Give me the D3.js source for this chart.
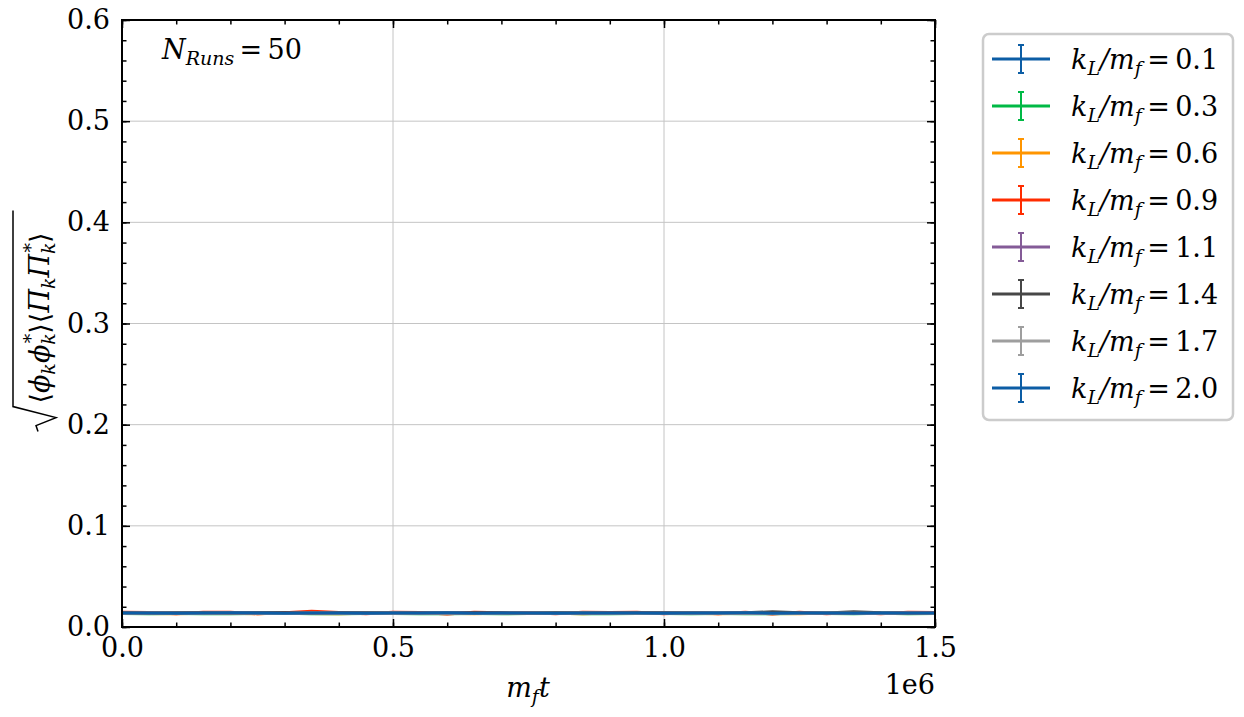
<!DOCTYPE html>
<html>
<head>
<meta charset="utf-8">
<script src="https://cdn.jsdelivr.net/npm/d3@7"></script>
<style>
  body { margin: 0; background: #fff; }
  svg { font-family: "DejaVu Serif", serif; }
  .it { font-style: italic; }
</style>
</head>
<body>
<svg width="1244" height="717"></svg>
<script>
// time grid (m_f t)
var times = [0, 50000, 100000, 150000, 200000, 250000, 300000, 350000, 400000, 450000,
  500000, 550000, 600000, 650000, 700000, 750000, 800000, 850000, 900000, 950000,
  1000000, 1050000, 1100000, 1150000, 1200000, 1250000, 1300000, 1350000, 1400000, 1450000, 1500000];

var kLabels = ["0.1", "0.3", "0.6", "0.9", "1.1", "1.4", "1.7", "2.0"];
var colors = ["#0C5DA5", "#00B945", "#FF9500", "#FF2C00", "#845B97", "#474747", "#9e9e9e", "#0C5DA5"];

var s01 = [0.0139,0.0140,0.0138,0.0141,0.0139,0.0140,0.0138,0.0139,0.0141,0.0140,0.0138,0.0139,0.0140,0.0139,0.0141,0.0138,0.0140,0.0139,0.0138,0.0140,0.0141,0.0139,0.0138,0.0140,0.0139,0.0141,0.0140,0.0138,0.0139,0.0140,0.0139];
var s03 = [0.0133,0.0131,0.0134,0.0132,0.0130,0.0133,0.0135,0.0131,0.0132,0.0134,0.0133,0.0130,0.0132,0.0134,0.0131,0.0133,0.0135,0.0132,0.0130,0.0133,0.0134,0.0131,0.0133,0.0132,0.0130,0.0134,0.0133,0.0131,0.0135,0.0132,0.0133];
var s06 = [0.0136,0.0134,0.0131,0.0137,0.0135,0.0132,0.0138,0.0134,0.0130,0.0136,0.0133,0.0137,0.0135,0.0131,0.0139,0.0134,0.0136,0.0132,0.0138,0.0135,0.0133,0.0137,0.0131,0.0136,0.0134,0.0130,0.0138,0.0135,0.0133,0.0137,0.0135];
var s09 = [0.0146,0.0143,0.0130,0.0145,0.0147,0.0131,0.0142,0.0156,0.0144,0.0131,0.0145,0.0143,0.0129,0.0146,0.0142,0.0144,0.0130,0.0145,0.0143,0.0146,0.0130,0.0144,0.0131,0.0146,0.0129,0.0145,0.0130,0.0144,0.0130,0.0145,0.0143];
var s11 = [0.0138,0.0136,0.0139,0.0135,0.0137,0.0140,0.0136,0.0138,0.0135,0.0139,0.0137,0.0136,0.0140,0.0135,0.0138,0.0136,0.0139,0.0137,0.0135,0.0138,0.0140,0.0136,0.0137,0.0139,0.0135,0.0138,0.0136,0.0140,0.0137,0.0135,0.0138];
var s14 = [0.0141,0.0139,0.0142,0.0140,0.0138,0.0141,0.0140,0.0139,0.0142,0.0140,0.0141,0.0139,0.0138,0.0140,0.0142,0.0139,0.0141,0.0140,0.0139,0.0141,0.0140,0.0142,0.0139,0.0141,0.0150,0.0141,0.0139,0.0151,0.0140,0.0136,0.0135];
var s17 = [0.0136,0.0138,0.0135,0.0137,0.0139,0.0136,0.0134,0.0138,0.0137,0.0135,0.0139,0.0136,0.0138,0.0134,0.0137,0.0139,0.0135,0.0138,0.0136,0.0137,0.0135,0.0139,0.0136,0.0138,0.0134,0.0137,0.0139,0.0136,0.0135,0.0138,0.0137];
var s20 = [0.0138,0.0139,0.0137,0.0138,0.0140,0.0138,0.0137,0.0139,0.0138,0.0137,0.0139,0.0138,0.0140,0.0137,0.0138,0.0139,0.0137,0.0138,0.0139,0.0138,0.0137,0.0139,0.0138,0.0140,0.0137,0.0138,0.0139,0.0137,0.0138,0.0139,0.0138];
var errs = [0.0004, 0.0004, 0.0005, 0.0005, 0.0004, 0.0004, 0.0004, 0.0004];

var xTicks = [0, 500000, 1000000, 1500000];
var yTicks = [0, 0.1, 0.2, 0.3, 0.4, 0.5, 0.6];

var allSeries = [s01, s03, s06, s09, s11, s14, s17, s20];

var svg = d3.select("svg");
var pLeft = 122, pTop = 20, pRight = 935, pBottom = 627;

var x = d3.scaleLinear().domain([0, 1500000]).range([pLeft, pRight]);
var y = d3.scaleLinear().domain([0, 0.6]).range([pBottom, pTop]);

var fontSize = 27;
var subSize = 19;

// grid
var grid = svg.append("g");
grid.selectAll(".gx").data(xTicks.slice(1, -1)).enter().append("line")
  .attr("x1", d => x(d)).attr("x2", d => x(d))
  .attr("y1", pTop).attr("y2", pBottom)
  .attr("stroke", "#c4c4c4").attr("stroke-width", 1);
grid.selectAll(".gy").data(yTicks.slice(1, -1)).enter().append("line")
  .attr("x1", pLeft).attr("x2", pRight)
  .attr("y1", d => y(d)).attr("y2", d => y(d))
  .attr("stroke", "#c4c4c4").attr("stroke-width", 1);

// data
var line = d3.line().x((d, i) => x(times[i])).y(d => y(d));
var plot = svg.append("g");
allSeries.forEach(function(s, k) {
  var g = plot.append("g");
  g.selectAll("line").data(s).enter().append("line")
    .attr("x1", (d, i) => x(times[i])).attr("x2", (d, i) => x(times[i]))
    .attr("y1", d => y(d - errs[k])).attr("y2", d => y(d + errs[k]))
    .attr("stroke", colors[k]).attr("stroke-width", 2);
  g.append("path").datum(s)
    .attr("d", line)
    .attr("fill", "none")
    .attr("stroke", colors[k])
    .attr("stroke-width", 3);
});

// axes, ticks pointing inward on all sides
function styleAxis(g) {
  g.select(".domain").remove();
  g.selectAll(".tick line").attr("stroke", "#000").attr("stroke-width", 1.5);
  g.selectAll(".tick text").attr("font-size", fontSize).attr("font-family", "DejaVu Serif").attr("fill", "#000");
}
var minorX = d3.range(0, 1500001, 100000);
var minorY = d3.range(0, 0.6001, 0.02);

svg.append("g").attr("transform", "translate(0," + pBottom + ")")
  .call(d3.axisBottom(x).tickValues(xTicks).tickSize(-8).tickPadding(11).tickFormat(d => d3.format(".1f")(d / 1e6)))
  .call(styleAxis);
svg.append("g").attr("transform", "translate(0," + pBottom + ")")
  .call(d3.axisBottom(x).tickValues(minorX).tickSize(-4.5).tickFormat(""))
  .call(styleAxis);
svg.append("g").attr("transform", "translate(0," + pTop + ")")
  .call(d3.axisTop(x).tickValues(xTicks).tickSize(-8).tickFormat(""))
  .call(styleAxis);
svg.append("g").attr("transform", "translate(0," + pTop + ")")
  .call(d3.axisTop(x).tickValues(minorX).tickSize(-4.5).tickFormat(""))
  .call(styleAxis);
svg.append("g").attr("transform", "translate(" + pLeft + ",0)")
  .call(d3.axisLeft(y).tickValues(yTicks).tickSize(-8).tickPadding(12).tickFormat(d3.format(".1f")))
  .call(styleAxis);
svg.append("g").attr("transform", "translate(" + pLeft + ",0)")
  .call(d3.axisLeft(y).tickValues(minorY).tickSize(-4.5).tickFormat(""))
  .call(styleAxis);
svg.append("g").attr("transform", "translate(" + pRight + ",0)")
  .call(d3.axisRight(y).tickValues(yTicks).tickSize(-8).tickFormat(""))
  .call(styleAxis);
svg.append("g").attr("transform", "translate(" + pRight + ",0)")
  .call(d3.axisRight(y).tickValues(minorY).tickSize(-4.5).tickFormat(""))
  .call(styleAxis);

svg.append("rect")
  .attr("x", pLeft).attr("y", pTop)
  .attr("width", pRight - pLeft).attr("height", pBottom - pTop)
  .attr("fill", "none").attr("stroke", "#000").attr("stroke-width", 2);

// offset text
svg.append("text").attr("x", pRight).attr("y", 694)
  .attr("text-anchor", "end").attr("font-size", fontSize).text("1e6");

// x label
var xl = svg.append("text").attr("x", 528).attr("y", 697)
  .attr("text-anchor", "middle").attr("font-size", fontSize);
xl.append("tspan").attr("class", "it").text("m");
xl.append("tspan").attr("class", "it").attr("font-size", subSize).attr("dy", 6).text("f");
xl.append("tspan").attr("class", "it").attr("dy", -6).text("t");

// annotation
var nr = svg.append("text").attr("x", 162).attr("y", 59).attr("font-size", fontSize);
nr.append("tspan").attr("class", "it").text("N");
nr.append("tspan").attr("class", "it").attr("font-size", subSize).attr("dy", 6).text("Runs");
nr.append("tspan").attr("dy", -6).text("\u2009=\u200950");

// y label with radical
var yl = svg.append("g").attr("transform", "translate(49,322) rotate(-90)");
var yt = yl.append("text").attr("font-size", fontSize);
function part(t, opt) {
  var sp = yt.append("tspan").text(t);
  if (opt && opt.it) sp.attr("font-style", "italic");
  if (opt && opt.small) sp.attr("font-size", subSize);
  if (opt && opt.dy) sp.attr("dy", opt.dy);
  if (opt && opt.dx) sp.attr("dx", opt.dx);
  return sp;
}
part("\u27E8");
part("\u03D5", {it: true});
part("k", {it: true, small: true, dy: 6});
part("\u03D5", {it: true, dy: -6});
part("k", {it: true, small: true, dy: 6});
part("*", {small: true, dx: -10, dy: -18});
part("\u27E9", {dy: 12});
part("\u27E8");
part("\u03A0", {it: true});
part("k", {it: true, small: true, dy: 6});
part("\u03A0", {it: true, dy: -6});
part("k", {it: true, small: true, dy: 6});
part("*", {small: true, dx: -10, dy: -18});
part("\u27E9", {dy: 12});
var L = yt.node().getComputedTextLength();
var R = 28;
var start = -(L + R) / 2;
yt.attr("x", start + R);
yl.append("path")
  .attr("d", "M" + (start) + ",-11 L" + (start + 6) + ",-13 L" + (start + 14) + ",7 L" + (start + R - 3) + ",-36 H" + (start + R + L + 2))
  .attr("fill", "none").attr("stroke", "#000").attr("stroke-width", 1.5);

// legend
var lg = svg.append("g");
lg.append("rect").attr("x", 983).attr("y", 34).attr("width", 250).attr("height", 386)
  .attr("rx", 6).attr("fill", "#fff").attr("stroke", "#cccccc").attr("stroke-width", 2.5);
kLabels.forEach(function(lab, i) {
  var cy = 59 + i * 47;
  lg.append("line").attr("x1", 992).attr("x2", 1050).attr("y1", cy).attr("y2", cy)
    .attr("stroke", colors[i]).attr("stroke-width", 3);
  lg.append("line").attr("x1", 1021).attr("x2", 1021).attr("y1", cy - 14).attr("y2", cy + 14)
    .attr("stroke", colors[i]).attr("stroke-width", 2);
  [cy - 14, cy + 14].forEach(function(c) {
    lg.append("line").attr("x1", 1018).attr("x2", 1024).attr("y1", c).attr("y2", c)
      .attr("stroke", colors[i]).attr("stroke-width", 2);
  });
  var t = lg.append("text").attr("x", 1071).attr("y", cy + 10).attr("font-size", fontSize);
  t.append("tspan").attr("class", "it").text("k");
  t.append("tspan").attr("class", "it").attr("font-size", subSize).attr("dy", 6).text("L");
  t.append("tspan").attr("class", "it").attr("dy", -6).text("/m");
  t.append("tspan").attr("class", "it").attr("font-size", subSize).attr("dy", 6).text("f");
  t.append("tspan").attr("dy", -6).text("\u2009=\u2009" + lab);
});
</script>
</body>
</html>
